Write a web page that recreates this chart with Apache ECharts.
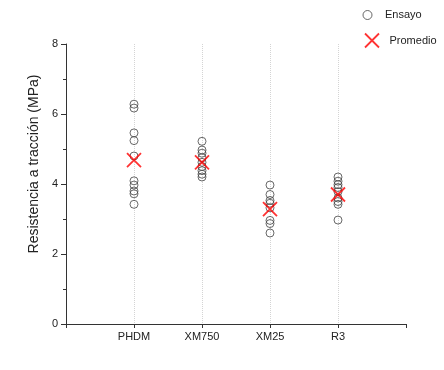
<!DOCTYPE html>
<html><head><meta charset="utf-8">
<script src="https://cdn.jsdelivr.net/npm/echarts@6/dist/echarts.min.js"></script>
<style>html,body{margin:0;padding:0;background:#fff}#c{width:444px;height:370px}</style>
</head><body><div id="c"></div>
<script>
const categories = ['PHDM', 'XM750', 'XM25', 'R3'];
const ensayoPHDM = [6.28, 6.17, 5.46, 5.24, 4.8, 4.09, 3.97, 3.8, 3.72, 3.42];
const ensayoXM750 = [5.22, 4.97, 4.88, 4.75, 4.62, 4.5, 4.38, 4.28, 4.2];
const ensayoXM25 = [3.97, 3.7, 3.53, 3.45, 3.32, 2.96, 2.87, 2.6];
const ensayoR3 = [4.2, 4.08, 3.98, 3.9, 3.78, 3.6, 3.5, 3.42, 2.97];
const promedio = [4.68, 4.62, 3.28, 3.70];
const yTicks = [0, 2, 4, 6, 8];

const groups = [ensayoPHDM, ensayoXM750, ensayoXM25, ensayoR3];
const ensayoData = [];
groups.forEach((g, i) => g.forEach(v => ensayoData.push([i + 1, v])));
const promData = promedio.map((v, i) => [i + 1, v]);

const font = 'Liberation Sans, Arial, sans-serif';
const chart = echarts.init(document.getElementById('c'));
chart.setOption({
  animation: false,
  backgroundColor: '#fff',
  textStyle: { fontFamily: font },
  grid: { left: 66, right: 38, top: 44, bottom: 46, containLabel: false },
  legend: [
    { data: ['Ensayo'], left: 357.5, top: 4.5, itemWidth: 25, itemHeight: 9, symbolKeepAspect: true,
      itemStyle: { borderWidth: 1, borderColor: '#444', color: 'rgba(255,255,255,0)' },
      textStyle: { fontSize: 11, color: '#222', fontFamily: font } },
    { data: ['Promedio'], left: 357.5, top: 26, itemWidth: 25, itemHeight: 14, symbolKeepAspect: true,
      itemStyle: { borderWidth: 1.8, borderColor: '#ff0000', color: 'none' },
      textStyle: { fontSize: 11, color: '#222', fontFamily: font } }
  ],
  xAxis: {
    type: 'value', min: 0, max: 5, interval: 1,
    axisLine: { show: true, lineStyle: { color: '#333', width: 1 } },
    axisTick: { show: true, length: 4, lineStyle: { color: '#333' } },
    axisLabel: { fontSize: 11, color: '#222', margin: 7, fontFamily: font,
      formatter: v => categories[v - 1] || '' },
    splitLine: { show: true, showMinLine: false, showMaxLine: false,
      lineStyle: { color: '#d4d4d4', type: 'dotted', width: 1 } }
  },
  yAxis: {
    type: 'value', min: yTicks[0], max: yTicks[yTicks.length - 1], interval: 2,
    name: 'Resistencia a tracción (MPa)', nameLocation: 'middle', nameGap: 24, nameRotate: 90,
    nameTextStyle: { fontSize: 14, color: '#222', fontFamily: font, padding: [0, 0, 0, 40] },
    axisLine: { show: true, lineStyle: { color: '#333', width: 1 } },
    axisTick: { show: true, length: 5, lineStyle: { color: '#333' } },
    minorTick: { show: true, splitNumber: 2, length: 3, lineStyle: { color: '#333' } },
    axisLabel: { fontSize: 11, color: '#222', margin: 8, fontFamily: font },
    splitLine: { show: false }
  },
  series: [
    { name: 'Ensayo', type: 'scatter', data: ensayoData, symbol: 'circle', symbolSize: 8,
      itemStyle: { color: 'rgba(255,255,255,0)', borderColor: '#444', borderWidth: 1 }, z: 3 },
    { name: 'Promedio', type: 'scatter', data: promData,
      symbol: 'path://M0,0L10,10M10,0L0,10', symbolSize: 14, symbolKeepAspect: true,
      itemStyle: { color: 'none', borderColor: '#ff0000', borderWidth: 1.8 }, z: 4 }
  ]
});
</script></body></html>
